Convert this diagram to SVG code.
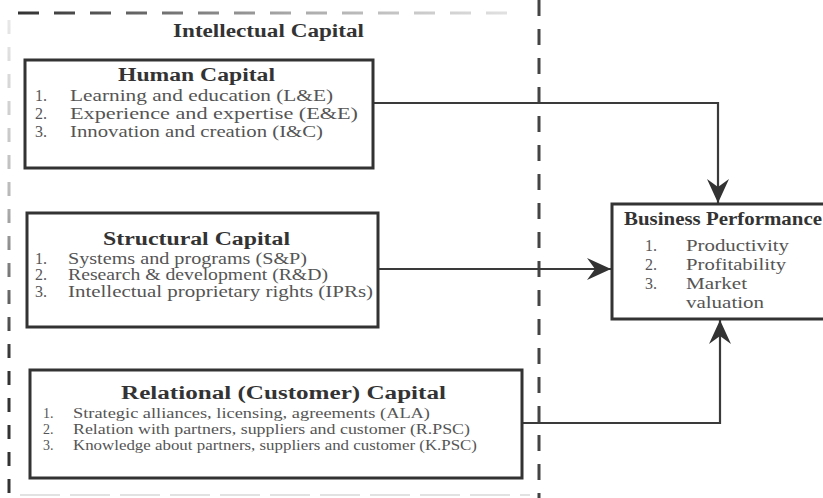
<svg xmlns="http://www.w3.org/2000/svg" width="823" height="498" viewBox="0 0 823 498">
<style>
.box{fill:#fff;stroke:#333;stroke-width:3}
.title{font-family:"Liberation Serif",serif;font-weight:bold;font-size:18px;fill:#333}
.item{font-family:"Liberation Serif",serif;font-size:16px;fill:#555}
.small{font-family:"Liberation Serif",serif;font-size:14px;fill:#555}
.conn{fill:none;stroke:#3a3a3a;stroke-width:2.2}
</style>
<defs>
<linearGradient id="gTop" gradientUnits="userSpaceOnUse" x1="20" y1="0" x2="520" y2="0">
<stop offset="0" stop-color="#333"/><stop offset="0.55" stop-color="#aaa"/><stop offset="1" stop-color="#e4e4e4"/>
</linearGradient>
<linearGradient id="gLeft" gradientUnits="userSpaceOnUse" x1="0" y1="20" x2="0" y2="360">
<stop offset="0" stop-color="#e8e8e8"/><stop offset="0.5" stop-color="#bbb"/><stop offset="1" stop-color="#333"/>
</linearGradient>
<marker id="arr" viewBox="0 0 24 22" refX="24" refY="11" markerWidth="24" markerHeight="22" markerUnits="userSpaceOnUse" orient="auto">
<path d="M0,0 L24,11 L0,22 L8,11 z" fill="#333"/>
</marker>
</defs>

<g id="frame">
<line x1="18" y1="13" x2="520" y2="13" stroke="url(#gTop)" stroke-width="3" stroke-dasharray="21 15"/>
<line x1="9" y1="20" x2="9" y2="495" stroke="url(#gLeft)" stroke-width="3" stroke-dasharray="14 13"/>
<line x1="539" y1="0" x2="539" y2="498" stroke="#444" stroke-width="3" stroke-dasharray="16 13"/>
<line x1="20" y1="495" x2="530" y2="495" stroke="#e2e2e2" stroke-width="2" stroke-dasharray="40 10"/>
<text class="title" x="173" y="37" textLength="191" lengthAdjust="spacingAndGlyphs">Intellectual Capital</text>
</g>

<g id="connectors">
<path class="conn" d="M373,103 H718 V203" marker-end="url(#arr)"/>
<path class="conn" d="M378,269 H611" marker-end="url(#arr)"/>
<path class="conn" d="M522,423 H720 V320" marker-end="url(#arr)"/>
</g>

<g id="human">
<rect class="box" x="25" y="60" width="348" height="108"/>
<text class="title" x="118" y="81" textLength="157" lengthAdjust="spacingAndGlyphs">Human Capital</text>
<text class="item" x="35" y="101">1.</text>
<text class="item" x="70" y="101" textLength="263" lengthAdjust="spacingAndGlyphs">Learning and education (L&amp;E)</text>
<text class="item" x="35" y="119">2.</text>
<text class="item" x="70" y="119" textLength="288" lengthAdjust="spacingAndGlyphs">Experience and expertise (E&amp;E)</text>
<text class="item" x="35" y="137">3.</text>
<text class="item" x="70" y="137" textLength="253" lengthAdjust="spacingAndGlyphs">Innovation and creation (I&amp;C)</text>
</g>

<g id="structural">
<rect class="box" x="27" y="213" width="351" height="114"/>
<text class="title" x="103" y="245" textLength="187" lengthAdjust="spacingAndGlyphs">Structural Capital</text>
<text class="item" x="35" y="264">1.</text>
<text class="item" x="68" y="264" textLength="239" lengthAdjust="spacingAndGlyphs">Systems and programs (S&amp;P)</text>
<text class="item" x="35" y="280">2.</text>
<text class="item" x="68" y="280" textLength="260" lengthAdjust="spacingAndGlyphs">Research &amp; development (R&amp;D)</text>
<text class="item" x="35" y="297">3.</text>
<text class="item" x="68" y="297" textLength="305" lengthAdjust="spacingAndGlyphs">Intellectual proprietary rights (IPRs)</text>
</g>

<g id="relational">
<rect class="box" x="30" y="370" width="492" height="108"/>
<text class="title" x="121" y="399" textLength="325" lengthAdjust="spacingAndGlyphs">Relational (Customer) Capital</text>
<text class="small" x="43" y="418">1.</text>
<text class="small" x="73" y="418" textLength="357" lengthAdjust="spacingAndGlyphs">Strategic alliances, licensing, agreements (ALA)</text>
<text class="small" x="43" y="434">2.</text>
<text class="small" x="73" y="434" textLength="397" lengthAdjust="spacingAndGlyphs">Relation with partners, suppliers and customer (R.PSC)</text>
<text class="small" x="43" y="450">3.</text>
<text class="small" x="73" y="450" textLength="404" lengthAdjust="spacingAndGlyphs">Knowledge about partners, suppliers and customer (K.PSC)</text>
</g>

<g id="business">
<rect class="box" x="612" y="204" width="220" height="115"/>
<text class="title" x="624" y="225" textLength="198" lengthAdjust="spacingAndGlyphs">Business Performance</text>
<text class="item" x="645" y="251">1.</text>
<text class="item" x="686" y="251" textLength="103" lengthAdjust="spacingAndGlyphs">Productivity</text>
<text class="item" x="645" y="270">2.</text>
<text class="item" x="686" y="270" textLength="100" lengthAdjust="spacingAndGlyphs">Profitability</text>
<text class="item" x="645" y="289">3.</text>
<text class="item" x="686" y="289" textLength="61" lengthAdjust="spacingAndGlyphs">Market</text>
<text class="item" x="686" y="308" textLength="78" lengthAdjust="spacingAndGlyphs">valuation</text>
</g>
</svg>
